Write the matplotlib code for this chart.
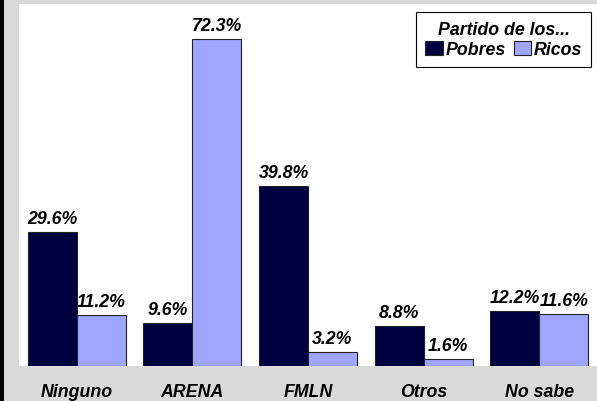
import numpy as np
import matplotlib
matplotlib.use("Agg")
import matplotlib.pyplot as plt
from matplotlib.patches import Rectangle

categories = ["Ninguno", "ARENA", "FMLN", "Otros", "No sabe"]
pobres = [29.6, 9.6, 39.8, 8.8, 12.2]
ricos = [11.2, 72.3, 3.2, 1.6, 11.6]

plt.rcParams["font.family"] = ["Liberation Sans", "DejaVu Sans"]
FS = 12.8

fig = plt.figure(figsize=(5.97, 4.02), dpi=100, facecolor="#d9d9d9")
# black strip down the left edge
fig.patches.append(Rectangle((0, 0), 4 / 597, 1, transform=fig.transFigure,
                             facecolor="black", edgecolor="none"))

ax = fig.add_axes([19 / 597, 35 / 402, 578 / 597, 362 / 402])
ax.set_facecolor("white")

x = np.arange(len(categories))
w = 0.424
b1 = ax.bar(x - w / 2, pobres, w, color="#000040", edgecolor="#222222", linewidth=0.8, label="Pobres")
b2 = ax.bar(x + w / 2, ricos, w, color="#9ea6ff", edgecolor="#222222", linewidth=0.8, label="Ricos")

for bars, vals in ((b1, pobres), (b2, ricos)):
    for bar, v in zip(bars, vals):
        ax.annotate(f"{v:.1f}%", (bar.get_x() + bar.get_width() / 2, v),
                    xytext=(0, 3.5), textcoords="offset points", ha="center", va="bottom",
                    fontsize=FS, fontweight="bold", fontstyle="italic")

ax.set_xlim(-0.5, len(categories) - 0.5)
ax.set_ylim(0, 80)
ax.set_yticks([])
ax.set_xticks(x)
ax.set_xticklabels(categories, fontsize=FS, fontweight="bold", fontstyle="italic")
ax.tick_params(axis="x", length=0, pad=12)
for s in ax.spines.values():
    s.set_visible(False)

leg = ax.legend(title="Partido de los...", loc="upper right", bbox_to_anchor=(0.99, 0.978),
                ncol=2, fancybox=False, edgecolor="black", framealpha=1,
                prop={"size": FS, "weight": "bold", "style": "italic"},
                handlelength=1.0, handleheight=0.8, handletextpad=0.15, columnspacing=0.45,
                borderpad=0.5, labelspacing=0.2, borderaxespad=0)
leg.get_title().set_fontsize(FS)
leg.get_title().set_fontweight("bold")
leg.get_title().set_fontstyle("italic")
leg.get_frame().set_linewidth(0.8)

fig.savefig("out.png", dpi=100, facecolor=fig.get_facecolor())
